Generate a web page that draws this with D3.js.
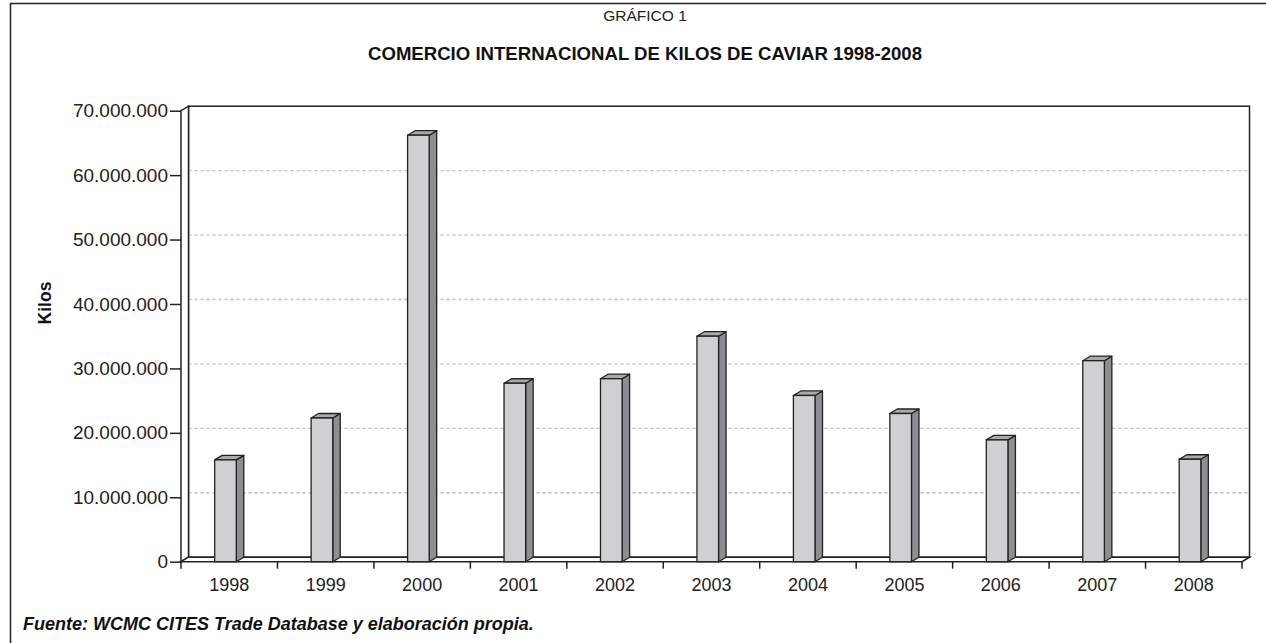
<!DOCTYPE html>
<html>
<head>
<meta charset="utf-8">
<script src="https://cdn.jsdelivr.net/npm/d3@7/dist/d3.min.js"></script>
<style>
  html, body { margin: 0; padding: 0; background: #fff; }
  svg { display: block; }
</style>
</head>
<body>
<svg id="chart" width="1266" height="643"></svg>
<script>
// ---- data ----
const years = ["1998","1999","2000","2001","2002","2003","2004","2005","2006","2007","2008"];
const kilos = [15800000, 22300000, 66200000, 27700000, 28400000, 35000000, 25800000, 23000000, 18900000, 31200000, 15900000];
const yTicks = [0, 10000000, 20000000, 30000000, 40000000, 50000000, 60000000, 70000000];
const titleTop = "GRÁFICO 1";
const titleMain = "COMERCIO INTERNACIONAL DE KILOS DE CAVIAR 1998-2008";
const yLabel = "Kilos";
const source = "Fuente: WCMC CITES Trade Database y elaboración propia.";

// ---- layout ----
const svg = d3.select("#chart");
const L = 181, R = 1242, B = 561.7, T = 110.7;
const dx = 7.5, dy = 4.5;
const font = "'Liberation Sans', Arial, Helvetica, sans-serif";
const fmt = v => d3.format(",")(v).replace(/,/g, ".");

const y = d3.scaleLinear().domain([0, 70000000]).range([B, T]);
const x = d3.scaleBand().domain(years).range([L, R]).paddingInner(0.776).paddingOuter(0.388);

// outer frame
svg.append("path").attr("d", `M10.5,643 L10.5,3.5 L1266,3.5`)
  .attr("fill", "none").attr("stroke", "#222").attr("stroke-width", 1.5);

// titles
svg.append("text").attr("x", 645).attr("y", 21).attr("text-anchor", "middle")
  .attr("font-family", font).attr("font-size", 15.5).attr("fill", "#222").text(titleTop);
svg.append("text").attr("x", 645).attr("y", 59.5).attr("text-anchor", "middle")
  .attr("font-family", font).attr("font-size", 17.5).attr("font-weight", "bold").attr("fill", "#111")
  .attr("textLength", 554).attr("lengthAdjust", "spacingAndGlyphs").text(titleMain);

// back wall
svg.append("rect").attr("x", L + dx).attr("y", T - dy).attr("width", R - L).attr("height", B - T)
  .attr("fill", "#fff").attr("stroke", "#222").attr("stroke-width", 1.5);

// gridlines on back wall
const grid = yTicks.filter(v => v > 0 && v < 70000000);
svg.append("g").selectAll("line").data(grid).join("line")
  .attr("x1", L + dx).attr("x2", R + dx)
  .attr("y1", d => y(d) - dy).attr("y2", d => y(d) - dy)
  .attr("stroke", "#bdbdbd").attr("stroke-width", 1.3).attr("stroke-dasharray", "3,3");
svg.append("g").selectAll("line").data(grid).join("line")
  .attr("x1", L).attr("x2", L + dx)
  .attr("y1", d => y(d)).attr("y2", d => y(d) - dy)
  .attr("stroke", "#b8b8b8").attr("stroke-width", 1.2);

// left wall
svg.append("path")
  .attr("d", `M${L},${B} L${L},${T} L${L + dx},${T - dy} L${L + dx},${B - dy} Z`)
  .attr("fill", "#fff").attr("stroke", "#222").attr("stroke-width", 1.5);

// floor
svg.append("path")
  .attr("d", `M${L},${B} L${L + dx},${B - dy} L${R + dx},${B - dy} L${R},${B} Z`)
  .attr("fill", "#fff").attr("stroke", "#222").attr("stroke-width", 1.5);

// y axis
const yAxis = d3.axisLeft(y).tickValues(yTicks).tickFormat(fmt).tickSize(11).tickPadding(2);
const gy = svg.append("g").attr("transform", `translate(${L},0)`).call(yAxis);
gy.select(".domain").remove();
gy.selectAll(".tick line").attr("stroke", "#222").attr("stroke-width", 1.5);
gy.selectAll(".tick text").attr("font-family", font).attr("font-size", 19).attr("fill", "#222");

// x axis
const xEdges = d3.scaleLinear().domain([0, years.length]).range([L, R]);
svg.append("g").selectAll("line").data(d3.range(years.length + 1)).join("line")
  .attr("x1", d => xEdges(d)).attr("x2", d => xEdges(d))
  .attr("y1", B).attr("y2", B + 7)
  .attr("stroke", "#222").attr("stroke-width", 1.5);
svg.append("g").selectAll("text").data(years).join("text")
  .attr("x", d => x(d) + x.bandwidth() / 2)
  .attr("y", B + 29)
  .attr("text-anchor", "middle")
  .attr("font-family", font).attr("font-size", 18).attr("fill", "#222")
  .text(d => d);

// bars
const bars = svg.append("g");
const bw = x.bandwidth();
years.forEach((yr, i) => {
  const x0 = x(yr) - dx / 2, x1 = x0 + bw;
  const yt = y(kilos[i]);
  const g = bars.append("g");
  g.append("path")
    .attr("d", `M${x1},${yt} L${x1 + dx},${yt - dy} L${x1 + dx},${B - dy} L${x1},${B} Z`)
    .attr("fill", "#8e8e92").attr("stroke", "#222").attr("stroke-width", 1.3).attr("stroke-linejoin", "round");
  g.append("path")
    .attr("d", `M${x0},${yt} L${x0 + dx},${yt - dy} L${x1 + dx},${yt - dy} L${x1},${yt} Z`)
    .attr("fill", "#aaaaad").attr("stroke", "#222").attr("stroke-width", 1.3).attr("stroke-linejoin", "round");
  g.append("rect")
    .attr("x", x0).attr("y", yt).attr("width", bw).attr("height", B - yt)
    .attr("fill", "#d0d0d2").attr("stroke", "#222").attr("stroke-width", 1.3);
});

// y label
svg.append("text")
  .attr("transform", "translate(51,303) rotate(-90)")
  .attr("text-anchor", "middle")
  .attr("font-family", font).attr("font-size", 17.5).attr("font-weight", "bold").attr("fill", "#111")
  .text(yLabel);

// source
svg.append("text").attr("x", 23).attr("y", 630)
  .attr("font-family", font).attr("font-size", 18).attr("font-weight", "bold").attr("font-style", "italic")
  .attr("fill", "#111").text(source);
</script>
</body>
</html>
